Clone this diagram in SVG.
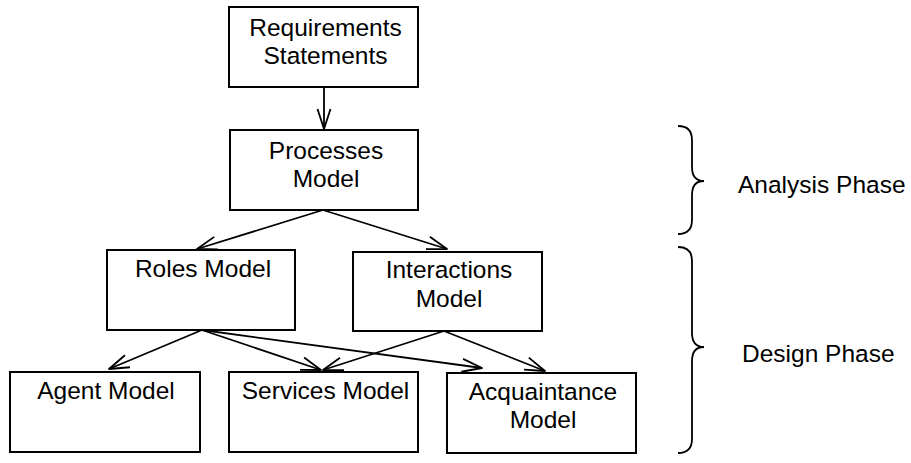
<svg xmlns="http://www.w3.org/2000/svg" width="911" height="463" viewBox="0 0 911 463">
<defs>
<style>
.box{fill:#fff;stroke:#000;stroke-width:2}
.t{font-family:"Liberation Sans",Arial,sans-serif;font-size:24.5px;fill:#000;text-anchor:middle}
.tl{font-family:"Liberation Sans",Arial,sans-serif;font-size:24.5px;fill:#000}
.c{fill:none;stroke:#000;stroke-width:1.8;marker-end:url(#arr)}
.br{fill:none;stroke:#000;stroke-width:1.8}
</style>
<marker id="arr" markerUnits="userSpaceOnUse" markerWidth="30" markerHeight="30" refX="0" refY="0" viewBox="-25 -15 30 30" orient="auto">
<path d="M-20,-6.5 L0,0 L-20,6.5" fill="none" stroke="#000" stroke-width="1.8" stroke-linejoin="round"/>
</marker>
</defs>
<rect width="911" height="463" fill="#fff"/>
<g id="connectors">
<line class="c" x1="324" y1="87" x2="324" y2="129"/>
<line class="c" x1="323" y1="210" x2="197" y2="249"/>
<line class="c" x1="323" y1="210" x2="447" y2="249"/>
<line class="c" x1="202" y1="330" x2="109" y2="369"/>
<line class="c" x1="202" y1="330" x2="321" y2="370"/>
<line class="c" x1="202" y1="330" x2="482" y2="368"/>
<line class="c" x1="444" y1="331" x2="323" y2="370"/>
<line class="c" x1="444" y1="331" x2="545" y2="371"/>
</g>
<g id="requirements">
<rect class="box" x="229" y="7" width="189" height="80"/>
<text class="t" x="325.5" y="36">Requirements</text>
<text class="t" x="325.5" y="64">Statements</text>
</g>
<g id="processes">
<rect class="box" x="230" y="130" width="188" height="80"/>
<text class="t" x="326" y="159">Processes</text>
<text class="t" x="326" y="187">Model</text>
</g>
<g id="roles">
<rect class="box" x="107" y="250" width="188" height="80"/>
<text class="t" x="203" y="277">Roles Model</text>
</g>
<g id="interactions">
<rect class="box" x="353" y="252" width="189" height="79"/>
<text class="t" x="449" y="278">Interactions</text>
<text class="t" x="449" y="307">Model</text>
</g>
<g id="agent">
<rect class="box" x="10" y="372" width="190" height="80"/>
<text class="t" x="106" y="399">Agent Model</text>
</g>
<g id="services">
<rect class="box" x="229" y="372" width="189" height="80"/>
<text class="t" x="325.5" y="399">Services Model</text>
</g>
<g id="acquaintance">
<rect class="box" x="447" y="373" width="189" height="80"/>
<text class="t" x="543" y="400">Acquaintance</text>
<text class="t" x="543" y="428">Model</text>
</g>
<g id="analysis-phase">
<path class="br" d="M678,126 Q692,126 692,140 L692,167 Q692,181 704,181 Q692,181 692,195 L692,220 Q692,234 678,234"/>
<text class="tl" x="738" y="193">Analysis Phase</text>
</g>
<g id="design-phase">
<path class="br" d="M678,247 Q692,247 692,261 L692,333 Q692,347 704,347 Q692,347 692,361 L692,439 Q692,453 678,453"/>
<text class="tl" x="742" y="362">Design Phase</text>
</g>
</svg>
